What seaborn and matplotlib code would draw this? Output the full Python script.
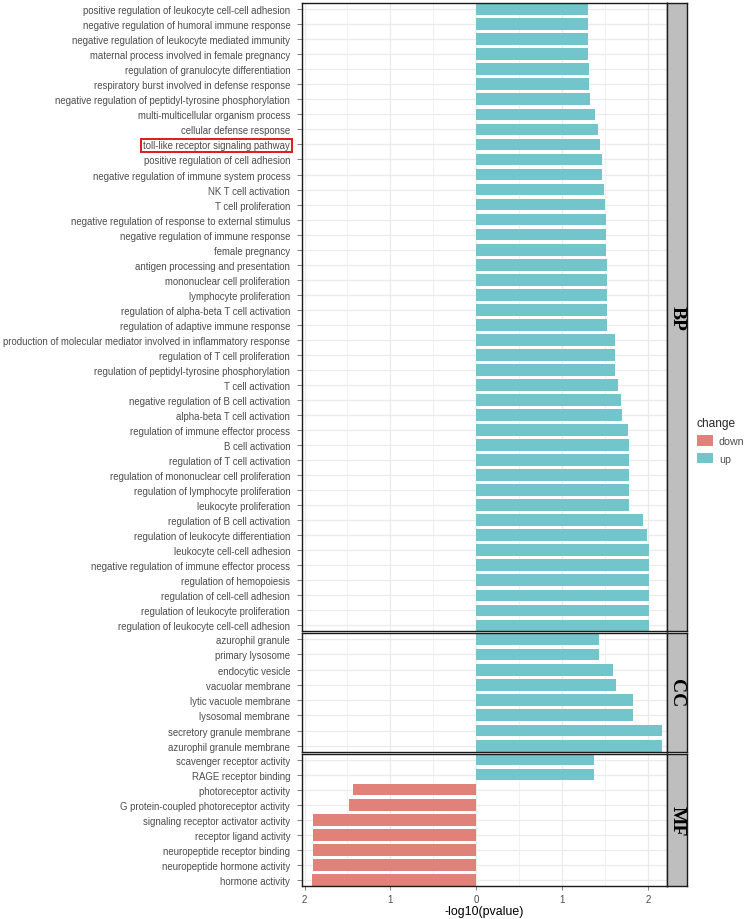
import matplotlib
matplotlib.use("Agg")
import matplotlib.pyplot as plt
from matplotlib.patches import Patch, Rectangle
import seaborn as sns
import pandas as pd

# ---------------- data ----------------
bp_terms = [
    "positive regulation of leukocyte cell-cell adhesion",
    "negative regulation of humoral immune response",
    "negative regulation of leukocyte mediated immunity",
    "maternal process involved in female pregnancy",
    "regulation of granulocyte differentiation",
    "respiratory burst involved in defense response",
    "negative regulation of peptidyl-tyrosine phosphorylation",
    "multi-multicellular organism process",
    "cellular defense response",
    "toll-like receptor signaling pathway",
    "positive regulation of cell adhesion",
    "negative regulation of immune system process",
    "NK T cell activation",
    "T cell proliferation",
    "negative regulation of response to external stimulus",
    "negative regulation of immune response",
    "female pregnancy",
    "antigen processing and presentation",
    "mononuclear cell proliferation",
    "lymphocyte proliferation",
    "regulation of alpha-beta T cell activation",
    "regulation of adaptive immune response",
    "production of molecular mediator involved in inflammatory response",
    "regulation of T cell proliferation",
    "regulation of peptidyl-tyrosine phosphorylation",
    "T cell activation",
    "negative regulation of B cell activation",
    "alpha-beta T cell activation",
    "regulation of immune effector process",
    "B cell activation",
    "regulation of T cell activation",
    "regulation of mononuclear cell proliferation",
    "regulation of lymphocyte proliferation",
    "leukocyte proliferation",
    "regulation of B cell activation",
    "regulation of leukocyte differentiation",
    "leukocyte cell-cell adhesion",
    "negative regulation of immune effector process",
    "regulation of hemopoiesis",
    "regulation of cell-cell adhesion",
    "regulation of leukocyte proliferation",
    "regulation of leukocyte cell-cell adhesion",
]
bp_values = [1.305, 1.305, 1.305, 1.305, 1.32, 1.32, 1.33, 1.386, 1.417, 1.437,
             1.464, 1.468, 1.491, 1.499, 1.511, 1.518, 1.518, 1.53, 1.53, 1.53,
             1.53, 1.53, 1.615, 1.615, 1.615, 1.65, 1.685, 1.697, 1.771, 1.775,
             1.783, 1.783, 1.783, 1.783, 1.946, 1.992, 2.016, 2.016, 2.016, 2.016,
             2.016, 2.016]
bp_change = ["up"] * len(bp_terms)

cc_terms = [
    "azurophil granule",
    "primary lysosome",
    "endocytic vesicle",
    "vacuolar membrane",
    "lytic vacuole membrane",
    "lysosomal membrane",
    "secretory granule membrane",
    "azurophil granule membrane",
]
cc_values = [1.433, 1.433, 1.60, 1.628, 1.833, 1.833, 2.160, 2.160]
cc_change = ["up"] * len(cc_terms)

mf_terms = [
    "scavenger receptor activity",
    "RAGE receptor binding",
    "photoreceptor activity",
    "G protein-coupled photoreceptor activity",
    "signaling receptor activator activity",
    "receptor ligand activity",
    "neuropeptide receptor binding",
    "neuropeptide hormone activity",
    "hormone activity",
]
mf_values = [1.372, 1.372, -1.439, -1.483, -1.90, -1.90, -1.90, -1.90, -1.917]
mf_change = ["up", "up", "down", "down", "down", "down", "down", "down", "down"]

ontologies = ["BP", "CC", "MF"]
change_levels = ["down", "up"]
x_ticks = [-2, -1, 0, 1, 2]
x_ticklabels = ["2", "1", "0", "1", "2"]
highlight_term = "toll-like receptor signaling pathway"

df = pd.concat([
    pd.DataFrame({"term": bp_terms, "value": bp_values, "change": bp_change, "ont": "BP"}),
    pd.DataFrame({"term": cc_terms, "value": cc_values, "change": cc_change, "ont": "CC"}),
    pd.DataFrame({"term": mf_terms, "value": mf_values, "change": mf_change, "ont": "MF"}),
], ignore_index=True)

# ---------------- style ----------------
sns.set_theme(style="white")
plt.rcParams["font.family"] = ["Liberation Sans", "DejaVu Sans"]

palette = {"down": "#E0827A", "up": "#72C5CA"}
GRID = "#EBEBEB"
TXT = "#4D4D4D"

W, H = 744, 920
fig = plt.figure(figsize=(W / 100, H / 100), dpi=100)


def rect(l, t, r, b):
    return [l / W, 1 - b / H, (r - l) / W, (b - t) / H]


left, right, strip_r = 302, 666.7, 686.7
panels = {"BP": (4.3, 632.3), "CC": (634.3, 752.7), "MF": (754.7, 886.7)}
bw = 0.78
axes = {}

for ont in ontologies:
    t, b = panels[ont]
    sub = df[df["ont"] == ont]
    order = list(sub["term"])
    n = len(order)
    ax = fig.add_axes(rect(left, t, right, b))
    sns.barplot(data=sub, x="value", y="term", hue="change", hue_order=change_levels,
                order=order, palette=palette, orient="h", dodge=False, width=bw,
                saturation=1, errorbar=None, legend=False, ax=ax, zorder=3,
                linewidth=0)
    ax.set_xlim(-2.03, 2.22)
    ax.set_ylim(n - 1 + bw / 2, -bw / 2)
    ax.set_facecolor("white")
    # grid
    for yv in range(n):
        ax.axhline(yv, color=GRID, lw=0.9, zorder=1)
    for xv in x_ticks:
        ax.axvline(xv, color=GRID, lw=0.9, zorder=1)
    for xv in [-1.5, -0.5, 0.5, 1.5]:
        ax.axvline(xv, color=GRID, lw=0.5, zorder=1)
    ax.set_xlabel("")
    ax.set_ylabel("")
    ax.set_xticks(x_ticks)
    ax.tick_params(axis="y", labelsize=6.92, colors="#4D4D4D", labelcolor=TXT,
                   length=3.5, width=0.5, pad=5, left=True)
    ax.tick_params(axis="x", labelsize=7, colors="#4D4D4D", labelcolor=TXT,
                   length=3, width=0.5, pad=3, bottom=True)
    if ont != "MF":
        ax.set_xticklabels([])
        ax.tick_params(axis="x", length=0)
    else:
        ax.set_xticklabels(x_ticklabels)
        ax.set_xlabel("-log10(pvalue)", fontsize=8.9, color="black", labelpad=1)
    for s in ax.spines.values():
        s.set_color("#1A1A1A")
        s.set_linewidth(1.0)
        s.set_zorder(5)
    axes[ont] = ax

    # strip
    sax = fig.add_axes(rect(right, t, strip_r, b))
    sax.set_facecolor("#BEBEBE")
    sax.set_xticks([])
    sax.set_yticks([])
    for s in sax.spines.values():
        s.set_color("#1A1A1A")
        s.set_linewidth(1.0)
    sax.text(0.5, 0.5, ont, rotation=-90, ha="center", va="center",
             transform=sax.transAxes, fontsize=14, fontweight="bold",
             family=["Liberation Serif", "DejaVu Serif"], color="black")

# legend
handles = [Patch(facecolor=palette[c], edgecolor="none") for c in change_levels]
leg = fig.legend(handles, change_levels, title="change", loc="upper left",
                 bbox_to_anchor=(696.5 / W, 1 - 418 / H), frameon=False,
                 fontsize=7.7, title_fontsize=8.6, handlelength=1.5,
                 handleheight=1.15, labelspacing=0.6, handletextpad=0.6,
                 borderpad=0, borderaxespad=0, alignment="left")
for txt in leg.get_texts():
    txt.set_color(TXT)

# red highlight box around a label
fig.canvas.draw()
renderer = fig.canvas.get_renderer()
for lab in axes["BP"].get_yticklabels():
    if lab.get_text() == highlight_term:
        bb = lab.get_window_extent(renderer)
        pad_x, pad_y = 2.0, 1.5
        x0, y0 = bb.x0 - pad_x, bb.y0 - pad_y
        r = Rectangle((x0 / W, y0 / H), (bb.width + 2 * pad_x) / W,
                      (bb.height + 2 * pad_y) / H, transform=fig.transFigure,
                      fill=False, edgecolor="#E0191B", linewidth=1.4)
        fig.add_artist(r)

fig.savefig("out.png", dpi=100)
